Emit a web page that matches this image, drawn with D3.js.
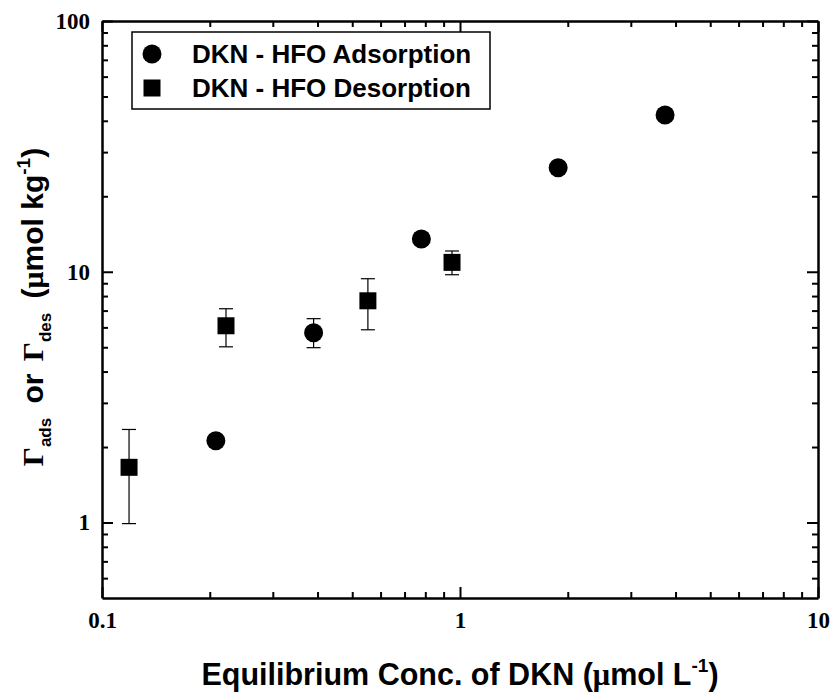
<!DOCTYPE html>
<html>
<head>
<meta charset="utf-8">
<script src="https://cdn.jsdelivr.net/npm/d3@7"></script>
<style>
  body { margin: 0; background: #fff; }
  svg { display: block; }
</style>
</head>
<body>
<div class="svgContainer"></div>
<script>
// adsorption series (circles)
const ADS_X = [0.208, 0.39, 0.78, 1.88, 3.74];
const ADS_Y = [2.12, 5.71, 13.5, 26.0, 42.2];
const ADS_LO = [null, 4.98, null, null, null];
const ADS_HI = [null, 6.50, null, null, null];

// desorption series (squares)
const DES_X = [0.119, 0.222, 0.553, 0.95];
const DES_Y = [1.66, 6.09, 7.66, 10.9];
const DES_LO = [0.99, 5.02, 5.87, 9.73];
const DES_HI = [2.35, 7.12, 9.38, 12.1];

const X_TICKS = [0.1, 1, 10];
const X_LABELS = ['0.1', '1', '10'];
const Y_TICKS = [1, 10, 100];
const Y_LABELS = ['1', '10', '100'];
const LEGEND_LABELS = ['DKN - HFO Adsorption', 'DKN - HFO Desorption'];

const WIDTH = 832;
const HEIGHT = 693;
const M = { left: 102, right: 14, top: 21, bottom: 95 };
const PLOT_W = WIDTH - M.left - M.right;
const PLOT_H = HEIGHT - M.top - M.bottom;
const MAJOR = 11;
const MINOR = 6;
const SERIF = '"Liberation Serif", "Times New Roman", serif';
const SANS = '"Liberation Sans", Arial, Helvetica, sans-serif';

const svg = d3.select('.svgContainer')
.append('svg')
.attr('width', WIDTH)
.attr('height', HEIGHT);

const x = d3.scaleLog().domain([0.1, 10]).range([M.left, M.left + PLOT_W]);
const y = d3.scaleLog().domain([0.5, 100]).range([M.top + PLOT_H, M.top]);

// minor ticks 2..9 in each decade
const minorOf = (lo, hi) => {
    const out = [];
    for (let d = lo; d < hi; d *= 10) {
        for (let k = 2; k <= 9; k++) out.push(d * k);
    }
    return out;
};
const X_MINOR = minorOf(0.1, 10);
const Y_MINOR = [0.6, 0.7, 0.8, 0.9, ...minorOf(1, 100)];

function drawAxis(axisFn, scale, pos, major, minor, labels, pad) {
    const g = svg.append('g').attr('transform', pos);
    g.append('g')
    .call(axisFn(scale).tickValues(minor).tickSizeInner(-MINOR).tickSizeOuter(0).tickFormat(''))
    .call(s => s.select('.domain').remove());
    g.append('g')
    .call(axisFn(scale).tickValues(major).tickSizeInner(-MAJOR).tickSizeOuter(0)
        .tickPadding(pad)
        .tickFormat((d, i) => labels ? labels[i] : ''));
    g.selectAll('line').attr('stroke', '#000').attr('stroke-width', 2);
    g.selectAll('.domain').attr('stroke', '#000').attr('stroke-width', 2.5);
    g.selectAll('text')
    .attr('font-family', SERIF)
    .attr('font-weight', 'bold')
    .attr('font-size', 23)
    .attr('fill', '#000');
    return g;
}

drawAxis(d3.axisBottom, x, `translate(0,${M.top + PLOT_H})`, X_TICKS, X_MINOR, X_LABELS, 14);
drawAxis(d3.axisTop, x, `translate(0,${M.top})`, X_TICKS, X_MINOR, null, 0);
drawAxis(d3.axisLeft, y, `translate(${M.left},0)`, Y_TICKS, Y_MINOR, Y_LABELS, 12);
drawAxis(d3.axisRight, y, `translate(${M.left + PLOT_W},0)`, Y_TICKS, Y_MINOR, null, 0);

// error bars
function errorBars(xs, lo, hi) {
    const rows = xs.map((v, i) => ({ x: v, lo: lo[i], hi: hi[i] })).filter(d => d.lo != null);
    const g = svg.append('g').attr('stroke', '#000').attr('stroke-width', 1.2);
    g.selectAll('line.v').data(rows).enter().append('line')
    .attr('x1', d => x(d.x)).attr('x2', d => x(d.x))
    .attr('y1', d => y(d.lo)).attr('y2', d => y(d.hi));
    g.selectAll('line.lo').data(rows).enter().append('line')
    .attr('x1', d => x(d.x) - 7).attr('x2', d => x(d.x) + 7)
    .attr('y1', d => y(d.lo)).attr('y2', d => y(d.lo));
    g.selectAll('line.hi').data(rows).enter().append('line')
    .attr('x1', d => x(d.x) - 7).attr('x2', d => x(d.x) + 7)
    .attr('y1', d => y(d.hi)).attr('y2', d => y(d.hi));
}
errorBars(ADS_X, ADS_LO, ADS_HI);
errorBars(DES_X, DES_LO, DES_HI);

const circle = d3.symbol().type(d3.symbolCircle).size(Math.PI * 9.5 * 9.5);
const square = d3.symbol().type(d3.symbolSquare).size(17 * 17);

svg.append('g')
.selectAll('path')
.data(ADS_X.map((v, i) => [v, ADS_Y[i]]))
.enter()
.append('path')
.attr('d', circle)
.attr('transform', d => `translate(${x(d[0])},${y(d[1])})`)
.attr('fill', '#000');

svg.append('g')
.selectAll('path')
.data(DES_X.map((v, i) => [v, DES_Y[i]]))
.enter()
.append('path')
.attr('d', square)
.attr('transform', d => `translate(${x(d[0])},${y(d[1])})`)
.attr('fill', '#000');

// legend
const legend = svg.append('g').attr('id', 'legend');
legend.append('rect')
.attr('x', 132).attr('y', 32)
.attr('width', 358).attr('height', 77)
.attr('fill', '#fff').attr('stroke', '#000').attr('stroke-width', 1.5);
const legendSymbols = [circle, square];
legend.selectAll('path')
.data(LEGEND_LABELS)
.enter()
.append('path')
.attr('d', (d, i) => legendSymbols[i]())
.attr('transform', (d, i) => `translate(152,${54 + i * 34})`)
.attr('fill', '#000');
legend.selectAll('text')
.data(LEGEND_LABELS)
.enter()
.append('text')
.attr('x', 192)
.attr('y', (d, i) => 54 + i * 34)
.attr('dy', '0.36em')
.attr('font-family', SANS)
.attr('font-weight', 'bold')
.attr('font-size', 26)
.text(d => d);

// x axis title
const xTitle = svg.append('text')
.attr('x', M.left + PLOT_W / 2)
.attr('y', 685)
.attr('text-anchor', 'middle')
.attr('font-family', SANS)
.attr('font-weight', 'bold')
.attr('font-size', 30.5);
xTitle.append('tspan').text('Equilibrium Conc. of DKN (');
xTitle.append('tspan').attr('font-family', SERIF).text('\u03bc');
xTitle.append('tspan').text('mol L');
xTitle.append('tspan').attr('font-size', 19).attr('dy', -13).text('-1');
xTitle.append('tspan').attr('dy', 13).text(')');

// y axis title
const yTitle = svg.append('text')
.attr('transform', `translate(43,307) rotate(-90)`)
.attr('text-anchor', 'middle')
.attr('font-family', SANS)
.attr('font-weight', 'bold')
.attr('font-size', 30);
yTitle.append('tspan').attr('font-family', SERIF).text('\u0393');
yTitle.append('tspan').attr('font-size', 17).attr('dy', 8).text('ads');
yTitle.append('tspan').attr('dy', -8).attr('dx', 6).text(' or ');
yTitle.append('tspan').attr('font-family', SERIF).attr('dx', 4).text('\u0393');
yTitle.append('tspan').attr('font-size', 17).attr('dy', 8).text('des');
yTitle.append('tspan').attr('dy', -8).attr('dx', 6).text(' (');
yTitle.append('tspan').attr('font-family', SERIF).text('\u03bc');
yTitle.append('tspan').text('mol kg');
yTitle.append('tspan').attr('font-size', 19).attr('dy', -13).text('-1');
yTitle.append('tspan').attr('dy', 13).text(')');
</script>
</body>
</html>
